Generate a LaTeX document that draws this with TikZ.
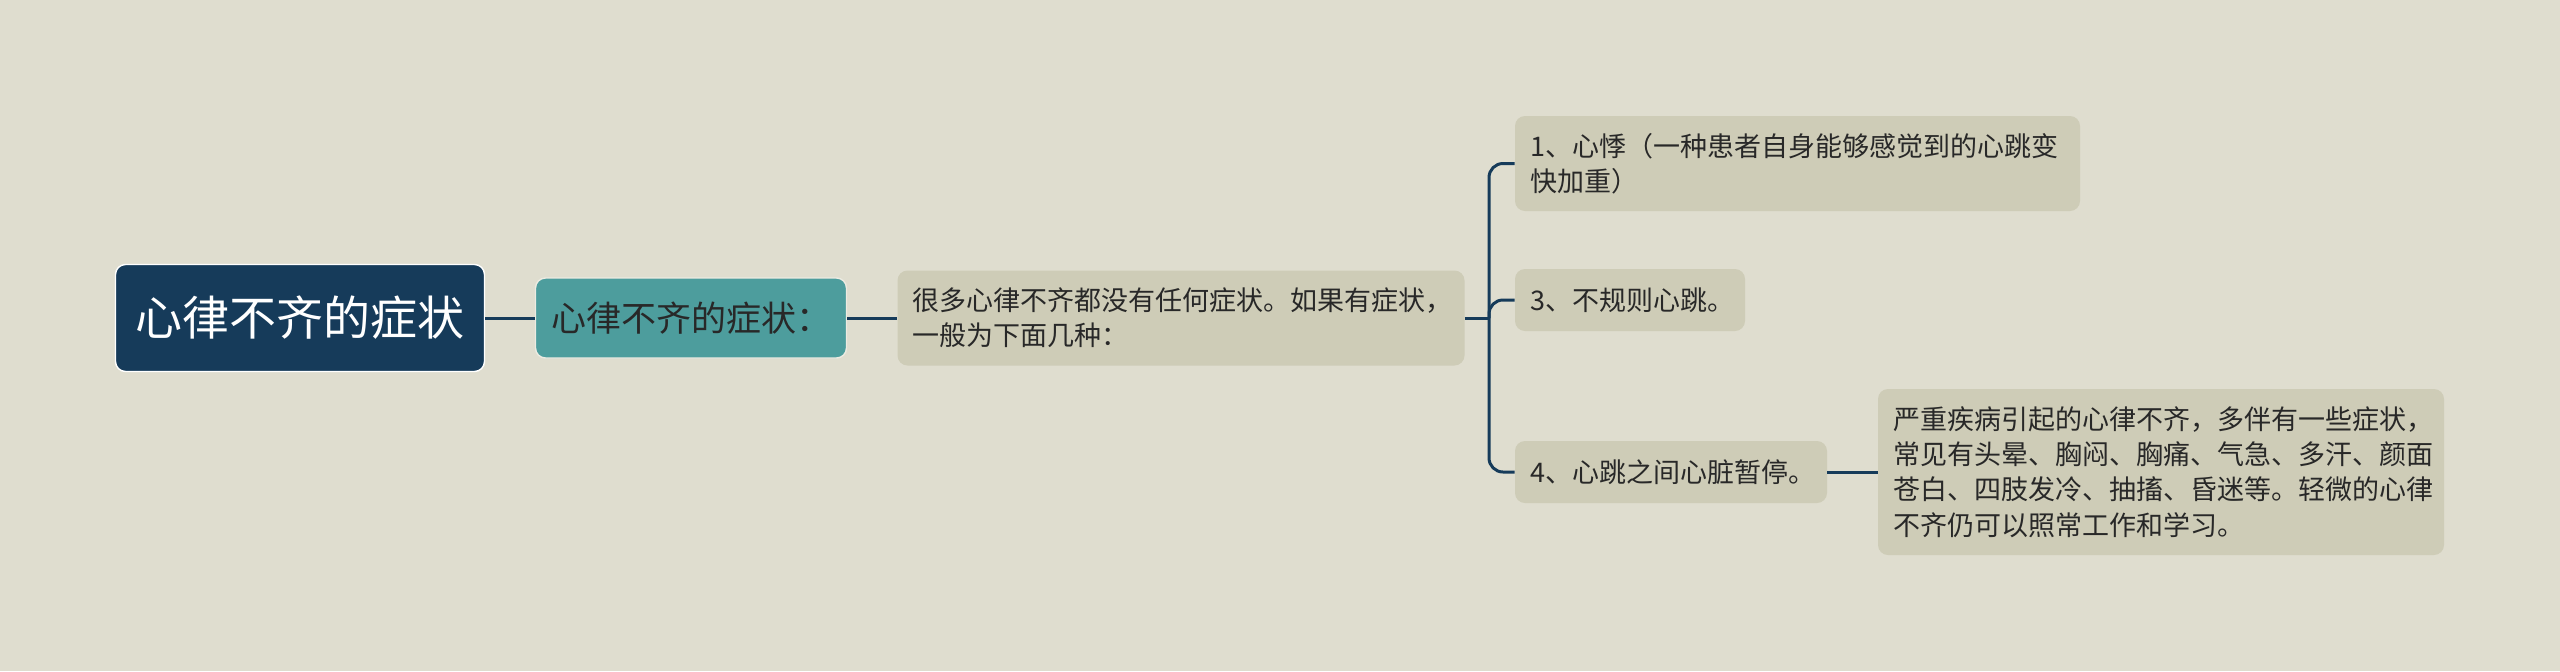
\documentclass[tikz,border=0pt]{standalone}
\usepackage{fontspec}
\setmainfont{Noto Sans CJK SC}
\begin{document}
\begin{tikzpicture}[x=0.5pt, y=-0.5pt, link/.style={line width=1.5pt, mmNavy}, box/.style={rounded corners=5pt, inner xsep=7.5pt, inner ysep=0pt, align=left, text=mmInk, font=\fontsize{13.5pt}{17.7pt}\selectfont}, leaf/.style={box, fill=mmSand}, every node/.style={anchor=center}]
\definecolor{mmPaper}{RGB}{223,221,207}
\definecolor{mmSand}{RGB}{206,204,183}
\definecolor{mmNavy}{RGB}{22,59,90}
\definecolor{mmTeal}{RGB}{77,157,157}
\definecolor{mmInk}{RGB}{40,40,40}
\fill[mmPaper] (0,0) rectangle (2560,671);
\useasboundingbox (0,0) rectangle (2560,671);
% main title and first level
\node[box, fill=mmNavy, draw=white, line width=0.7pt, text=white, align=center, minimum width=184.5pt, minimum height=53.5pt, font=\fontsize{23.5pt}{28pt}\selectfont] (root) at (300,318) {心律不齐的症状};
\node[box, fill=mmTeal, draw=mmPaper!60!white, line width=0.7pt, align=center, minimum width=155.5pt, minimum height=40pt, font=\fontsize{17.5pt}{21pt}\selectfont] (sym) at (691,318) {心律不齐的症状：};
\node[leaf, text width=268.5pt, minimum height=47.5pt] (intro) at (1181,318) {很多心律不齐都没有任何症状。如果有症状，\\一般为下面几种：};
% the kinds
\node[leaf, text width=267.5pt, minimum height=47.5pt] (palp) at (1797.5,163.5) {1、心悸（一种患者自身能够感觉到的心跳变\\快加重）};
\node[leaf, text width=100pt, minimum height=31pt] (irreg) at (1630,300) {3、不规则心跳。};
\node[leaf, text width=141pt, minimum height=31pt] (pause) at (1671,472) {4、心跳之间心脏暂停。};
\node[leaf, text width=268pt, minimum height=83pt] (severe) at (2161,472) {严重疾病引起的心律不齐，多伴有一些症状，\\常见有头晕、胸闷、胸痛、气急、多汗、颜面\\苍白、四肢发冷、抽搐、昏迷等。轻微的心律\\不齐仍可以照常工作和学习。};
\coordinate (fork) at (1489,318);
\draw[link] (root.east) -- (sym.west);
\draw[link] (sym.east) -- (intro.west);
\draw[link] (intro.east) -- (fork);
\draw[link, rounded corners=7pt] (fork) |- (palp.west);
\draw[link, rounded corners=7pt] (fork) |- (irreg.west);
\draw[link, rounded corners=7pt] (fork) |- (pause.west);
\draw[link] (pause.east) -- (severe.west);
\end{tikzpicture}
\end{document}
